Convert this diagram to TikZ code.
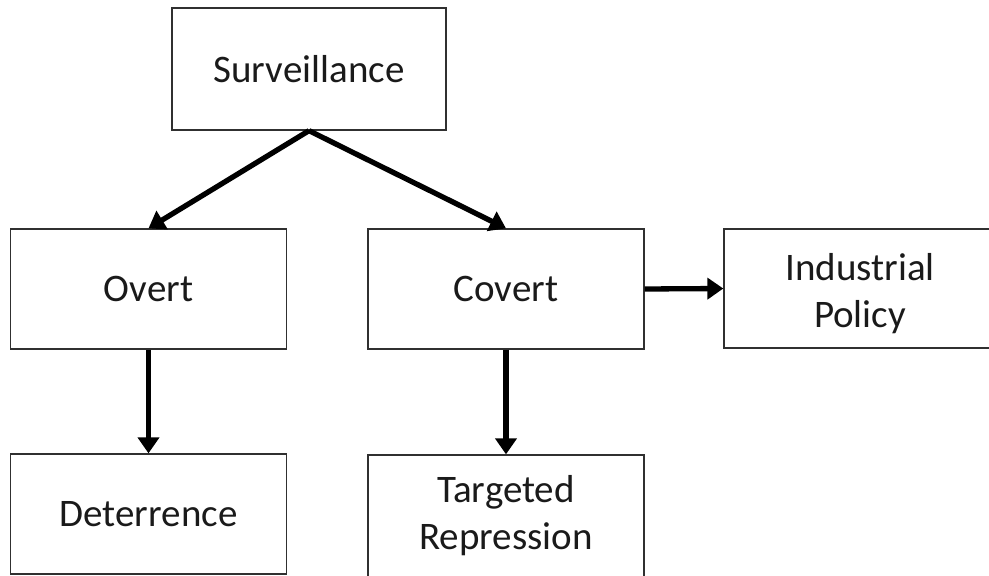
\documentclass[tikz,border=0pt]{standalone}
\usepackage{fontspec}
\setmainfont{Carlito}
\usetikzlibrary{arrows.meta}
\definecolor{boxline}{HTML}{303030}
\definecolor{txt}{HTML}{1A1A1A}
\begin{document}
\begin{tikzpicture}[x=1pt,y=-1pt,
  box/.style={draw=boxline,line width=1.3pt,rectangle,inner sep=0pt,
    minimum width=276pt,minimum height=120pt,align=center,text=txt,
    font=\fontsize{39}{47}\selectfont},
  conn/.style={line width=5.3pt,-{Triangle[length=16pt,width=21pt]}}]
\useasboundingbox (0,0) rectangle (989,576);
\node[box,minimum width=274pt,minimum height=122pt] (sur) at (309,69) {Surveillance};
\node[box] (ov) at (148.5,289) {Overt};
\node[box] (cov) at (506,289) {Covert};
\node[box,minimum width=272pt,minimum height=119pt] (ind) at (860,288.5) {\rule{0pt}{38pt}Industrial\\Policy};
\node[box] (det) at (148.5,514) {Deterrence};
\node[box,minimum height=122pt] (tr) at (506,516) {Targeted\\Repression};
\draw[conn] (sur.south) -- (ov.north);
\draw[conn] (sur.south) -- (cov.north);
\draw[conn] (ov.south) -- (det.north);
\draw[conn] (cov.south) -- (tr.north);
\draw[conn] (cov.east) -- (ind.west);
\end{tikzpicture}
\end{document}
